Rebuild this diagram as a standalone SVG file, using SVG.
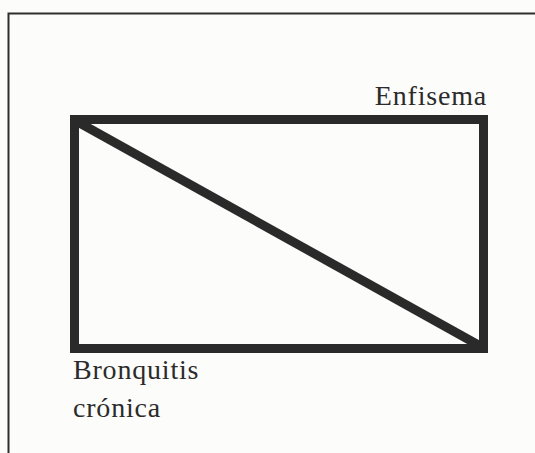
<svg xmlns="http://www.w3.org/2000/svg" width="535" height="453" viewBox="0 0 535 453">
<style>
.lbl{font-size:28px;letter-spacing:0.8px;fill:#2b2b2b}
.thick{fill:none;stroke:#2a2a2a;stroke-width:9}
</style>
<rect x="0" y="0" width="535" height="453" fill="#fcfcfa"/>
<g id="frame"><path d="M8.5 460 V13.5 H540" fill="none" stroke="#2e2e2e" stroke-width="2"/></g>
<g id="box"><rect class="thick" x="74.5" y="119.5" width="409" height="229"/></g>
<g id="connectors"><line class="thick" x1="76" y1="121" x2="482" y2="347"/></g>
<g id="enfisema" font-family="Liberation Serif, serif"><text class="lbl" x="487" y="105" text-anchor="end">Enfisema</text></g>
<g id="bronquitis" font-family="Liberation Serif, serif"><text class="lbl" x="73" y="379">Bronquitis</text><text class="lbl" x="73" y="417">crónica</text></g>
</svg>
